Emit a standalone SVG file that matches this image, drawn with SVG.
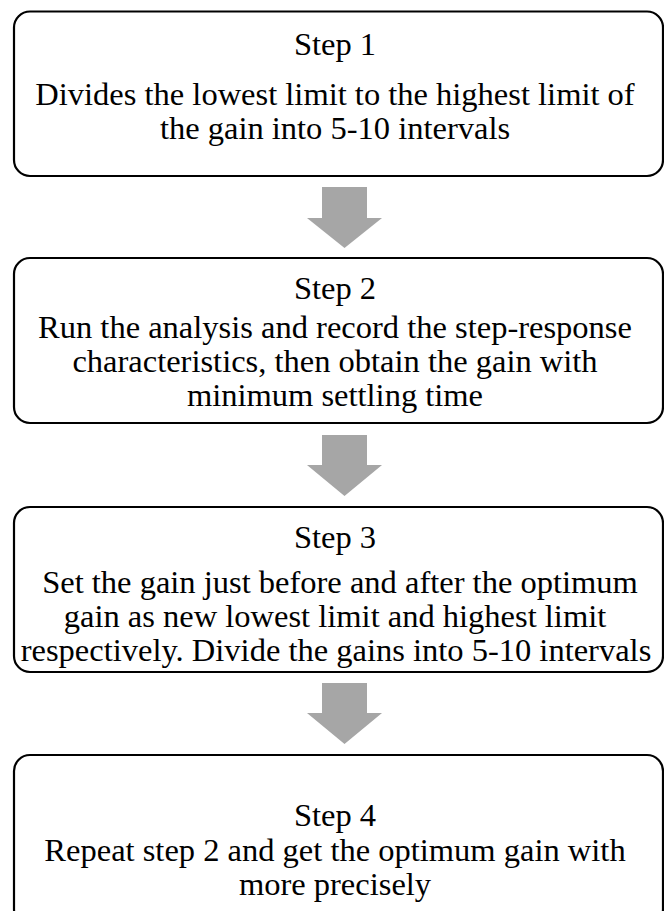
<svg xmlns="http://www.w3.org/2000/svg" width="664" height="911" viewBox="0 0 664 911">
<style>
.box{fill:#fff;stroke:#000;stroke-width:2.2}
.t{font-family:"Liberation Serif","Times New Roman",serif;font-size:32.5px;fill:#000;text-anchor:middle}
.arr{fill:#a6a6a6}
</style>
<rect x="0" y="0" width="664" height="911" fill="#fff"/>
<g id="step1">
<rect class="box" x="14" y="11.5" width="649" height="164.5" rx="16"/>
<text class="t" x="335" y="55">Step 1</text>
<text class="t" x="335" y="105">Divides the lowest limit to the highest limit of</text>
<text class="t" x="335" y="139">the gain into 5-10 intervals</text>
</g>
<g id="step2">
<rect class="box" x="14" y="258" width="649" height="165" rx="16"/>
<text class="t" x="335" y="299">Step 2</text>
<text class="t" x="335" y="338">Run the analysis and record the step-response</text>
<text class="t" x="335" y="372">characteristics, then obtain the gain with</text>
<text class="t" x="335" y="406">minimum settling time</text>
</g>
<g id="step3">
<rect class="box" x="14" y="507" width="649" height="165" rx="16"/>
<text class="t" x="335" y="548">Step 3</text>
<text class="t" x="340" y="593">Set the gain just before and after the optimum</text>
<text class="t" x="335" y="627">gain as new lowest limit and highest limit</text>
<text class="t" x="336" y="661">respectively. Divide the gains into 5-10 intervals</text>
</g>
<g id="step4">
<rect class="box" x="14" y="755" width="649" height="170" rx="16"/>
<text class="t" x="335" y="826">Step 4</text>
<text class="t" x="335" y="861">Repeat step 2 and get the optimum gain with</text>
<text class="t" x="335" y="895">more precisely</text>
</g>
<g id="connectors">
<polygon class="arr" points="322,187 367,187 367,218 382,218 344.5,248 307,218 322,218"/>
<polygon class="arr" points="322,435 367,435 367,465 382,465 344.5,496 307,465 322,465"/>
<polygon class="arr" points="322,683 367,683 367,713 382,713 344.5,744 307,713 322,713"/>
</g>
</svg>
